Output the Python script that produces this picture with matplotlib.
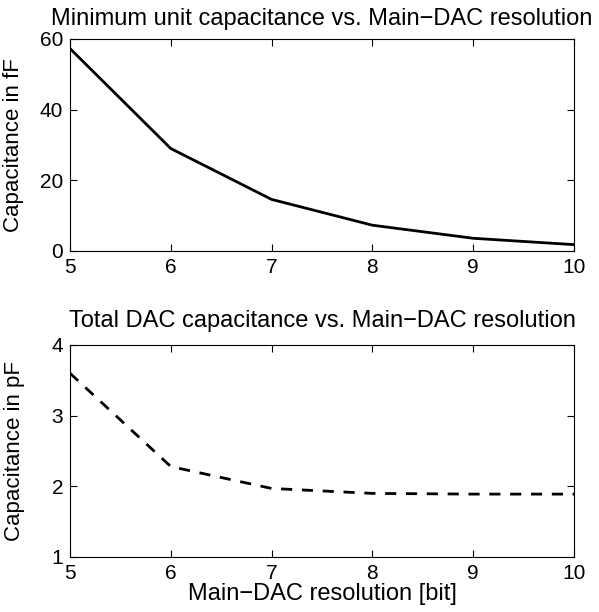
import numpy as np
import matplotlib.pyplot as plt

plt.rcParams['font.family'] = ['Liberation Sans', 'DejaVu Sans']

bits = [5, 6, 7, 8, 9, 10]
unit_cap_fF = [57.3, 29.0, 14.6, 7.3, 3.6, 1.8]
total_cap_pF = [3.6, 2.28, 1.97, 1.90, 1.89, 1.89]

fig = plt.figure(figsize=(5.99, 6.12), dpi=100)
W, H = 599, 612
L, R = 70, 574

ax1 = fig.add_axes([L / W, 1 - 251 / H, (R - L) / W, 212 / H])
ax2 = fig.add_axes([L / W, 1 - 557 / H, (R - L) / W, 212 / H])

ax1.plot(bits, unit_cap_fF, color='black', lw=2)
ax1.set_xlim(5, 10)
ax1.set_ylim(0, 60)
ax1.set_yticks([0, 20, 40, 60])
ax1.set_title('Minimum unit capacitance vs. Main\u2212DAC resolution', fontsize=17, pad=10)
ax1.set_ylabel('Capacitance in fF', fontsize=16, labelpad=11)

ax2.plot(bits, total_cap_pF, color='black', lw=2, ls=(0, (4, 3.5)))
ax2.set_xlim(5, 10)
ax2.set_ylim(1, 4)
ax2.set_yticks([1, 2, 3, 4])
ax2.set_title('Total DAC capacitance vs. Main\u2212DAC resolution', fontsize=17, pad=13)
ax2.set_ylabel('Capacitance in pF', fontsize=16, labelpad=19)
ax2.set_xlabel('Main\u2212DAC resolution [bit]', fontsize=17, labelpad=0)

for ax in (ax1, ax2):
    ax.set_xticks(bits)
    ax.tick_params(direction='in', top=True, right=True, length=5, width=0.8,
                   labelsize=15)
    ax.tick_params(axis='y', pad=5)
    ax.tick_params(axis='x', pad=5)
    for s in ax.spines.values():
        s.set_linewidth(0.8)

fig.savefig('out.png', dpi=100)
